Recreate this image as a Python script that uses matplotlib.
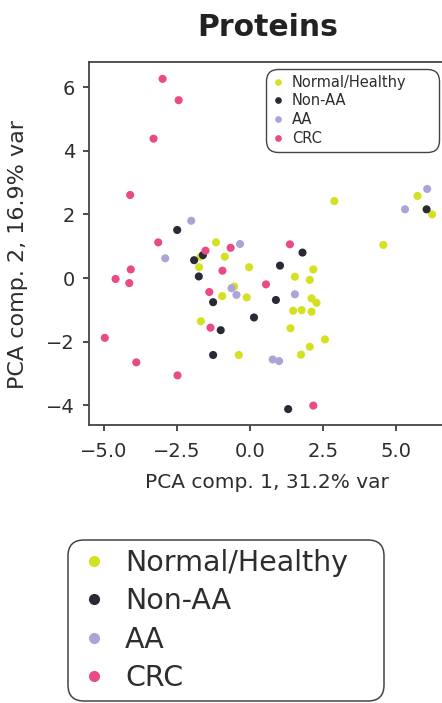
import numpy as np
import matplotlib
matplotlib.use("Agg")
import matplotlib.pyplot as plt
from matplotlib.lines import Line2D

# PCA scores, one pair of lists per group
healthy_x = [-1.16, -1.69, -1.74, -0.86, -0.03, -0.54, -0.95, -0.11, -1.68, -0.38,
             1.54, 2.17, 2.05, 2.11, 2.28, 1.48, 1.77, 2.11, 1.39, 2.57,
             2.05, 1.75, 4.57, 2.89, 5.74, 6.24]
healthy_y = [1.12, 0.67, 0.34, 0.67, 0.34, -0.27, -0.57, -0.61, -1.36, -2.42,
             0.04, 0.27, -0.06, -0.64, -0.78, -1.03, -1.01, -1.06, -1.58, -1.93,
             -2.16, -2.41, 1.04, 2.42, 2.58, 2.00]

nonaa_x = [-2.49, -1.91, -1.61, -1.75, -1.26, -1.00, -1.26, 0.14, 1.80, 1.03, 0.89, 1.31, 6.05]
nonaa_y = [1.51, 0.56, 0.72, 0.05, -0.76, -1.64, -2.42, -1.24, 0.80, 0.39, -0.69, -4.12, 2.16]

aa_x = [-2.01, -2.90, -0.34, -0.63, -0.46, 1.54, 0.78, 1.00, 6.07, 5.31]
aa_y = [1.80, 0.62, 1.07, -0.32, -0.53, -0.51, -2.56, -2.61, 2.80, 2.16]

crc_x = [-2.99, -2.44, -3.30, -4.10, -3.14, -4.08, -4.60, -4.13, -4.97, -3.89,
         -2.48, -1.52, -0.66, -0.94, 0.55, -1.39, -1.35, 1.37, 2.17]
crc_y = [6.26, 5.59, 4.38, 2.61, 1.12, 0.27, -0.03, -0.16, -1.88, -2.65,
         -3.06, 0.86, 0.95, 0.23, -0.20, -0.44, -1.56, 1.06, -4.01]

groups = ["Normal/Healthy", "Non-AA", "AA", "CRC"]
colors = ["#d5e021", "#2a2a36", "#aaa5d6", "#ea4a85"]
xs = [healthy_x, nonaa_x, aa_x, crc_x]
ys = [healthy_y, nonaa_y, aa_y, crc_y]

text_col = "#2d2d2d"
plt.rcParams["font.family"] = ["DejaVu Sans"]

W, H = 442, 703
fig = plt.figure(figsize=(W / 100, H / 100), dpi=100)
ax = fig.add_axes([89 / W, 1 - 425 / H, 356 / W, 363 / H])

for name, c, x, y in zip(groups, colors, xs, ys):
    ax.scatter(x, y, s=34, color=c, edgecolors="none", label=name, zorder=3)

ax.set_xlim(-5.51, 6.68)
ax.set_ylim(-4.62, 6.79)
ax.set_xticks([-5.0, -2.5, 0.0, 2.5, 5.0])
ax.set_yticks([-4, -2, 0, 2, 4, 6])
ax.tick_params(labelsize=14, colors=text_col, length=4, width=1.2)
ax.tick_params(axis="y", pad=6)
ax.tick_params(axis="x", pad=8)
for sp in ax.spines.values():
    sp.set_color("#444444")
    sp.set_linewidth(1.3)

ax.set_xlabel("PCA comp. 1, 31.2% var", fontsize=14.5, color=text_col, labelpad=9)
ax.set_ylabel("PCA comp. 2, 16.9% var", fontsize=16, color=text_col)
ax.yaxis.set_label_coords(-0.17, 0.47)

fig.text(268 / W, 1 - 27 / H, "Proteins", ha="center", va="center",
         fontsize=21.5, fontweight="bold", color="#222222")


def style_frame(leg, radius, lw):
    fr = leg.get_frame()
    fr.set_edgecolor("#444444")
    fr.set_linewidth(lw)
    fr.set_boxstyle("round", pad=0, rounding_size=radius)
    for t in leg.get_texts():
        t.set_color(text_col)


small_handles = [Line2D([], [], marker="o", linestyle="none", color=c, markersize=3.8)
                 for c in colors]
inner = fig.legend(small_handles, groups, loc="upper left",
                   bbox_to_anchor=(266 / W, 1 - 153 / H, 173 / W, 84 / H),
                   mode="expand", prop={"size": 10.5},
                   handlelength=0.84, handletextpad=0.54, labelspacing=0.25,
                   borderpad=0.4, borderaxespad=0, frameon=True, framealpha=1)
style_frame(inner, 0.8, 1.0)

big_handles = [Line2D([], [], marker="o", linestyle="none", color=c, markersize=7)
               for c in colors]
outer = fig.legend(big_handles, groups, loc="upper left",
                   bbox_to_anchor=(68 / W, 1 - 697 / H, 316 / W, 157 / H),
                   mode="expand", prop={"size": 20.5},
                   handlelength=1.25, handletextpad=0.45, labelspacing=0.37,
                   borderpad=0.3, borderaxespad=0, frameon=True, framealpha=1)
style_frame(outer, 0.55, 1.1)

fig.savefig("out.png", dpi=100)
